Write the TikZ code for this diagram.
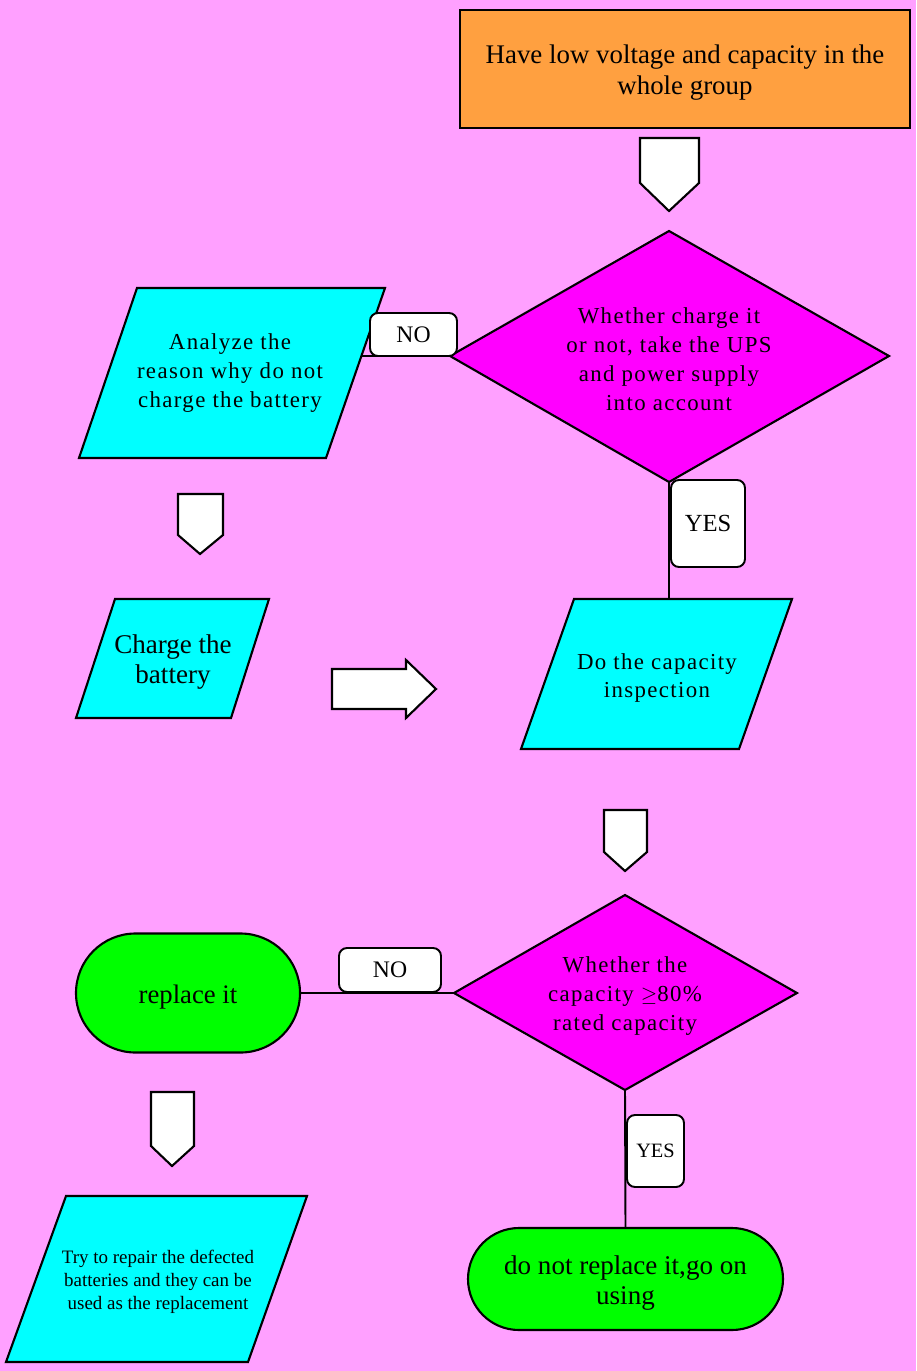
\documentclass[tikz,border=0pt]{standalone}
\usepackage{fontspec}
\setmainfont{Liberation Serif}
\usetikzlibrary{calc}
\definecolor{bgpink}{RGB}{255,160,255}
\definecolor{boxorange}{RGB}{255,160,64}
\definecolor{fillcyan}{RGB}{0,255,255}
\definecolor{fillmag}{RGB}{255,0,255}
\definecolor{fillgreen}{RGB}{0,255,0}
\tikzset{
  outl/.style={draw=black, line width=1.2pt, line join=miter},
  conn/.style={draw=black, line width=1.1pt},
  txt/.style={align=center, text=black, inner sep=0pt},
  bigtxt/.style={txt, font=\fontsize{15.3}{17.6}\selectfont},
  spacedtxt/.style={txt, font=\fontsize{13}{16.4}\selectfont\addfontfeature{LetterSpace=6}},
  smalltxt/.style={txt, font=\fontsize{10.8}{13}\selectfont},
  lbl/.style={draw=black, fill=white, line width=1.1pt, rounded corners=0.16cm, inner sep=0pt},
  pent/.style={outl, fill=white},
}
\begin{document}
\begin{tikzpicture}[x=0.02cm, y=-0.02cm]
\fill[bgpink] (0,0) rectangle (916,1371);
\useasboundingbox (0,0) rectangle (916,1371);

% top box
\draw[outl, fill=boxorange] (460,10) rectangle (910,128);
\node[bigtxt] (top) at (685,73) {Have low voltage and capacity in the\\whole group};

% pentagon arrow 1
\draw[pent] (640,138) -- (699,138) -- (699,183) -- (669,211) -- (640,183) -- cycle;

% diamond 1
\coordinate (d1n) at (669,231);
\coordinate (d1w) at (450,356);
\coordinate (d1e) at (889,356);
\coordinate (d1s) at (669,482);
\draw[outl, fill=fillmag] (d1n) -- (d1e) -- (d1s) -- (d1w) -- cycle;
\node[spacedtxt] (d1) at (669,359) {Whether charge it\\or not, take the UPS\\and power supply\\into account};

% parallelogram 1
\coordinate (p1e) at (361.5,356);
\draw[outl, fill=fillcyan] (137,288) -- (385,288) -- (326,458) -- (79,458) -- cycle;
\node[spacedtxt] (p1) at (230,373) {Analyze the\\reason why do not\\charge the battery};

% NO connector 1
\draw[conn] (d1w) -- (p1e);
\node[lbl, minimum width=87*0.02cm, minimum height=43*0.02cm, font=\fontsize{13.5}{15}\selectfont] (no1) at (413.5,334.5) {NO};

% pentagon arrow 2
\draw[pent] (178,494) -- (223,494) -- (223,535) -- (200,554) -- (178,535) -- cycle;

% parallelogram 2
\draw[outl, fill=fillcyan] (115,599) -- (269,599) -- (231,718) -- (76,718) -- cycle;
\node[txt, font=\fontsize{15.4}{17}\selectfont] (p2) at (173,662) {Charge the\\battery};

% right arrow
\draw[pent] (332,669) -- (406,669) -- (406,660) -- (436,689) -- (406,718) -- (406,709) -- (332,709) -- cycle;

% parallelogram 3
\coordinate (p3n) at (669,599);
\draw[outl, fill=fillcyan] (574,599) -- (792,599) -- (739,749) -- (521,749) -- cycle;
\node[spacedtxt] (p3) at (657,678) {Do the capacity\\inspection};

% YES connector 1
\draw[conn] (d1s) -- (p3n);
\node[lbl, minimum width=74*0.02cm, minimum height=87*0.02cm, font=\fontsize{14}{16}\selectfont] (yes1) at (708,523.5) {YES};

% pentagon arrow 3
\draw[pent] (604,810) -- (647,810) -- (647,852) -- (625,871) -- (604,852) -- cycle;

% diamond 2
\coordinate (d2n) at (625,895);
\coordinate (d2w) at (454,993);
\coordinate (d2e) at (797,993);
\coordinate (d2s) at (625,1090);
\draw[outl, fill=fillmag] (d2n) -- (d2e) -- (d2s) -- (d2w) -- cycle;
\node[spacedtxt] (d2) at (625,996) {Whether the\\capacity $\geq$80\%\\rated capacity};

% stadium replace it
\node[outl, fill=fillgreen, rounded corners=1.19cm, minimum width=224*0.02cm, minimum height=119*0.02cm, inner sep=0pt] (rep) at (188,993) {};
\node[txt, font=\fontsize{15.2}{17}\selectfont] (reptxt) at (188,997) {replace it};

% NO connector 2
\draw[conn] (d2w) -- (rep.east);
\node[lbl, minimum width=102*0.02cm, minimum height=44*0.02cm, font=\fontsize{13.5}{15}\selectfont] (no2) at (390,970) {NO};

% pentagon arrow 4
\draw[pent] (151,1092) -- (194,1092) -- (194,1146) -- (172,1166) -- (151,1146) -- cycle;

% parallelogram 4
\draw[outl, fill=fillcyan] (66,1196) -- (307,1196) -- (248,1362) -- (6,1362) -- cycle;
\node[smalltxt] (p4) at (158,1282) {Try to repair the defected\\batteries and they can be\\used as the replacement};

% stadium do not replace
\node[outl, fill=fillgreen, rounded corners=1.02cm, minimum width=315*0.02cm, minimum height=102*0.02cm, inner sep=0pt] (keep) at (625.5,1279) {};
\node[txt, font=\fontsize{15.4}{17.6}\selectfont] (keeptxt) at (625.5,1283) {do not replace it,go on\\using};

% YES connector 2
\draw[conn] (d2s) -- (keep.north);
\node[lbl, minimum width=57*0.02cm, minimum height=72*0.02cm, font=\fontsize{11.6}{13}\selectfont] (yes2) at (655.5,1151) {YES};
\end{tikzpicture}
\end{document}
